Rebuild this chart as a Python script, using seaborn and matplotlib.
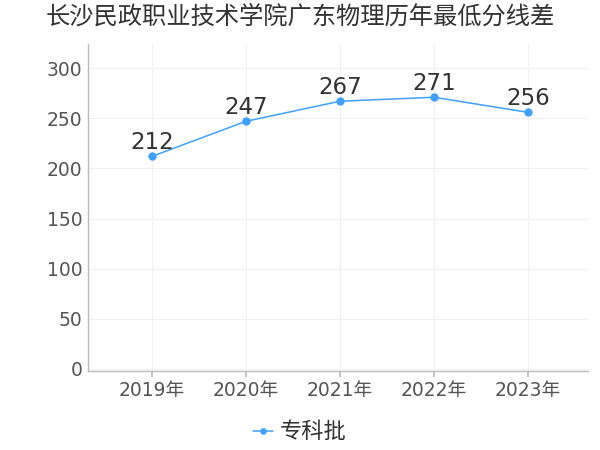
import matplotlib
matplotlib.use("Agg")
import matplotlib.pyplot as plt
import seaborn as sns
import pandas as pd

title = "长沙民政职业技术学院广东物理历年最低分线差"
years = ["2019年", "2020年", "2021年", "2022年", "2023年"]
scores = [212, 247, 267, 271, 256]
series_name = "专科批"
yticks = [0, 50, 100, 150, 200, 250, 300]

sns.set_theme(style="white")
plt.rcParams['font.family'] = ['DejaVu Sans', 'Noto Sans CJK SC']

df = pd.DataFrame({"year": years, "score": scores, "series": series_name})

fig = plt.figure(figsize=(6, 4.5), dpi=100)
ax = fig.add_axes([0.1467, 0.1756, 0.8333, 0.7264])

color = "#3FA0FF"
sns.lineplot(data=df, x="year", y="score", hue="series", palette=[color],
             marker="o", markersize=6, markeredgewidth=0, linewidth=1.1,
             ax=ax, sort=False)

for i, v in enumerate(scores):
    ax.text(i, v + 2, str(v), ha="center", va="bottom", fontsize=16.5, color="#333333")

ax.set_xlim(-0.68, 4.64)
ax.set_ylim(-2, 324)
ax.set_yticks(yticks)
ax.set_xlabel("")
ax.set_ylabel("")
ax.grid(True, color="#f0f0f0", linewidth=0.8)
ax.set_axisbelow(True)
for s in ["top", "right"]:
    ax.spines[s].set_visible(False)
for s in ["left", "bottom"]:
    ax.spines[s].set_color("#bbbbbb")
    ax.spines[s].set_linewidth(1)
ax.tick_params(axis="x", colors="#555555", labelsize=13.5, length=4, color="#bbbbbb", bottom=True, pad=3)
ax.tick_params(axis="y", colors="#555555", labelsize=13.5, length=0, pad=4)

fig.text(0.5, 0.962, title, ha="center", va="center", fontsize=17.5, color="#333333",
         family=['Noto Sans CJK SC', 'DejaVu Sans'])

leg = ax.legend(loc="center", bbox_to_anchor=(0.5 * 600 / 500 - 88 / 500, (450 - 432 - 79) / 327),
                frameon=False, handlelength=0.9, handletextpad=0.3,
                markerscale=0.8, prop={'family': ['Noto Sans CJK SC', 'DejaVu Sans'], 'size': 16})
for t in leg.get_texts():
    t.set_color("#333333")

fig.savefig("out.png", dpi=100)
